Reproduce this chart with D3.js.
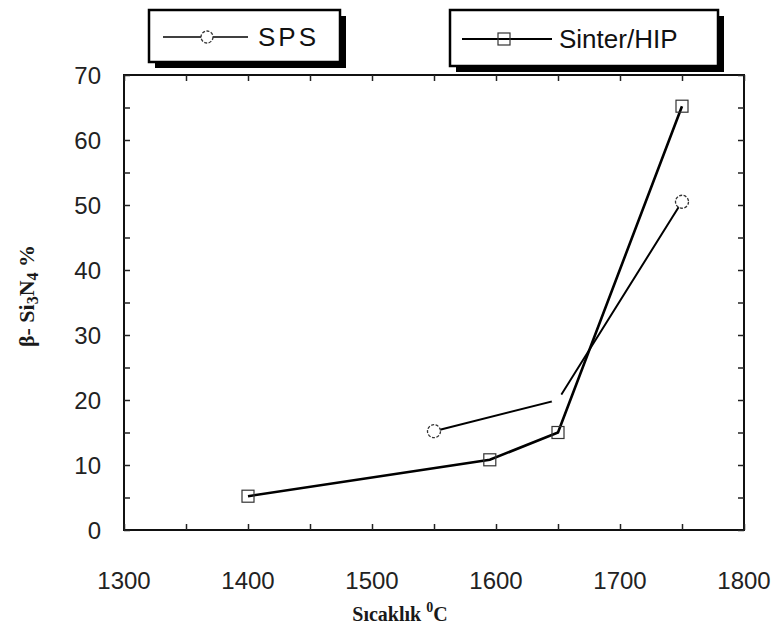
<!DOCTYPE html>
<html>
<head>
<meta charset="utf-8">
<script src="https://cdnjs.cloudflare.com/ajax/libs/d3/7.8.5/d3.min.js"></script>
<style>
  body { margin: 0; background: #fff; }
  text { font-family: "Liberation Sans", Arial, sans-serif; }
</style>
</head>
<body>
<div id="chart"></div>
<script>
// data
var spsTemp = [1550, 1650, 1750];
var spsBeta = [15.2, 20, 50.5];
var hipTemp = [1400, 1595, 1650, 1750];
var hipBeta = [5.2, 10.8, 15, 65.2];
var xTicks = [1300, 1400, 1500, 1600, 1700, 1800];
var yTicks = [0, 10, 20, 30, 40, 50, 60, 70];

var W = 779, H = 634;
var svg = d3.select("#chart").append("svg").attr("width", W).attr("height", H);

var x = d3.scaleLinear().domain([1300, 1800]).range([124, 744]);
var y = d3.scaleLinear().domain([0, 70]).range([530, 75]);

// frame
svg.append("rect")
  .attr("x", x(1300)).attr("y", y(70))
  .attr("width", x(1800) - x(1300)).attr("height", y(0) - y(70))
  .attr("fill", "none").attr("stroke", "#111").attr("stroke-width", 2);

// inward ticks on all four sides
var xAxB = d3.axisBottom(x).tickValues(d3.range(1300, 1801, 50)).tickSize(-6).tickFormat("");
var xAxT = d3.axisTop(x).tickValues(d3.range(1300, 1801, 50)).tickSize(-6).tickFormat("");
var yAxL = d3.axisLeft(y).tickValues(d3.range(0, 71, 5)).tickSize(-6).tickFormat("");
var yAxR = d3.axisRight(y).tickValues(d3.range(0, 71, 5)).tickSize(-6).tickFormat("");
[[xAxB, "translate(0," + y(0) + ")"], [xAxT, "translate(0," + y(70) + ")"],
 [yAxL, "translate(" + x(1300) + ",0)"], [yAxR, "translate(" + x(1800) + ",0)"]].forEach(function (a) {
  var g = svg.append("g").attr("transform", a[1]).call(a[0]);
  g.select(".domain").remove();
  g.selectAll("line").attr("stroke", "#222").attr("stroke-width", 1.5);
});

// tick labels
svg.selectAll(".xl").data(xTicks).enter().append("text")
  .attr("x", function (d) { return x(d); }).attr("y", 589)
  .attr("text-anchor", "middle").attr("font-size", 24).attr("fill", "#222")
  .text(function (d) { return d; });
svg.selectAll(".yl").data(yTicks).enter().append("text")
  .attr("x", 101).attr("y", function (d) { return y(d) + 9; })
  .attr("text-anchor", "end").attr("font-size", 24).attr("fill", "#222")
  .text(function (d) { return d; });

// axis titles
var xt = svg.append("text").attr("x", 400).attr("y", 621).attr("text-anchor", "middle")
  .style("font-family", "'Liberation Serif', 'Times New Roman', serif")
  .attr("font-weight", "bold").attr("font-size", 20).attr("fill", "#1a1a1a");
xt.append("tspan").text("Sıcaklık ");
xt.append("tspan").attr("font-size", 14).attr("dy", -9).text("0");
xt.append("tspan").attr("dy", 9).text("C");

var yt = svg.append("text").attr("transform", "translate(34,296) rotate(-90)").attr("text-anchor", "middle")
  .style("font-family", "'Liberation Serif', 'Times New Roman', serif")
  .attr("font-weight", "bold").attr("font-size", 22).attr("fill", "#1a1a1a");
yt.append("tspan").text("β- Si");
yt.append("tspan").attr("font-size", 16).attr("dy", 4).text("3");
yt.append("tspan").attr("dy", -4).text("N");
yt.append("tspan").attr("font-size", 16).attr("dy", 4).text("4");
yt.append("tspan").attr("dy", -4).text(" %");

// series
var sps = spsTemp.map(function (t, i) { return [t, spsBeta[i]]; });
var hip = hipTemp.map(function (t, i) { return [t, hipBeta[i]]; });
var line = d3.line().x(function (d) { return x(d[0]); }).y(function (d) { return y(d[1]); });

svg.append("path").datum(hip).attr("d", line)
  .attr("fill", "none").attr("stroke", "#000").attr("stroke-width", 2.6);
svg.append("path").datum(sps).attr("d", line)
  .attr("fill", "none").attr("stroke", "#000").attr("stroke-width", 2);

// markers
svg.selectAll(".sq").data(hip).enter().append("rect")
  .attr("x", function (d) { return x(d[0]) - 6; }).attr("y", function (d) { return y(d[1]) - 6; })
  .attr("width", 12).attr("height", 12)
  .attr("fill", "none").attr("stroke", "#333").attr("stroke-width", 1.2);
svg.selectAll(".ci").data(sps).enter().append("circle")
  .attr("cx", function (d) { return x(d[0]); }).attr("cy", function (d) { return y(d[1]); })
  .attr("r", 6.5).attr("fill", "#fff")
  .attr("stroke", function (d, i) { return i === 1 ? "none" : "#333"; })
  .attr("stroke-width", 1.3).attr("stroke-dasharray", "3,1.5");

// legend boxes with drop shadow
function legendBox(x0, y0, w, h) {
  svg.append("rect").attr("x", x0 + 6).attr("y", y0 + 6).attr("width", w).attr("height", h).attr("fill", "#000");
  svg.append("rect").attr("x", x0).attr("y", y0).attr("width", w).attr("height", h)
    .attr("fill", "#fff").attr("stroke", "#000").attr("stroke-width", 2.5);
}
legendBox(149, 10, 191, 52);
legendBox(450, 10, 268, 56);

svg.append("line").attr("x1", 163).attr("x2", 248).attr("y1", 37).attr("y2", 37)
  .attr("stroke", "#000").attr("stroke-width", 1.5);
svg.append("circle").attr("cx", 207).attr("cy", 37).attr("r", 6).attr("fill", "#fff")
  .attr("stroke", "#333").attr("stroke-width", 1.3).attr("stroke-dasharray", "3,1.5");
svg.append("text").attr("x", 258).attr("y", 46).attr("font-size", 26).attr("letter-spacing", 3)
  .attr("fill", "#111").text("SPS");

svg.append("line").attr("x1", 462).attr("x2", 552).attr("y1", 39).attr("y2", 39)
  .attr("stroke", "#000").attr("stroke-width", 2);
svg.append("rect").attr("x", 498).attr("y", 33).attr("width", 12).attr("height", 12)
  .attr("fill", "none").attr("stroke", "#333").attr("stroke-width", 1.2);
svg.append("text").attr("x", 559).attr("y", 48).attr("font-size", 26)
  .attr("fill", "#111").text("Sinter/HIP");
</script>
</body>
</html>
